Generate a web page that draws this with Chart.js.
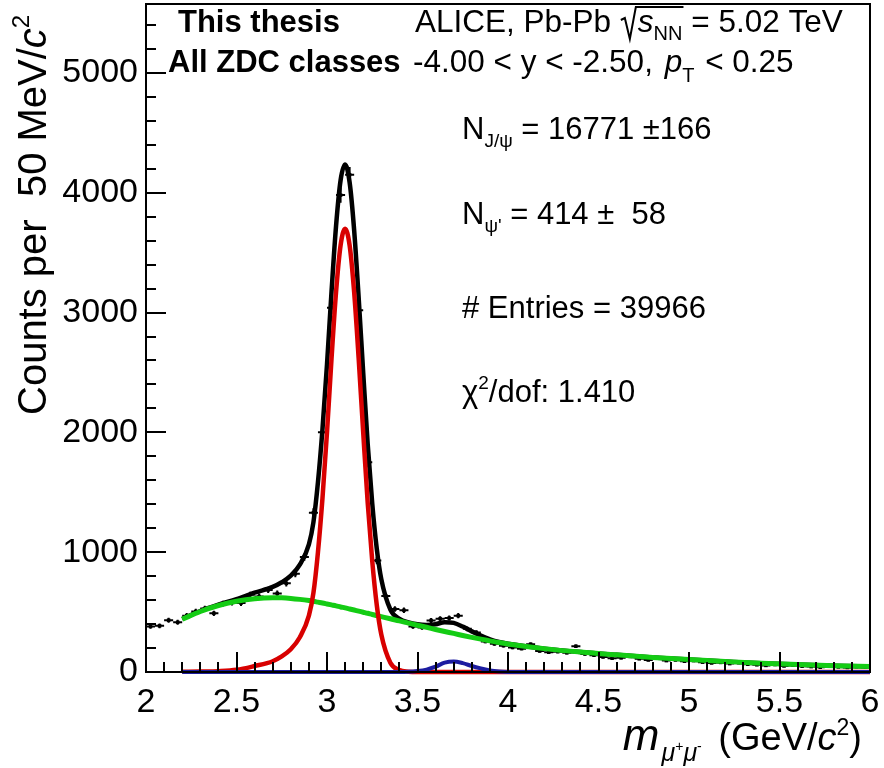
<!DOCTYPE html>
<html>
<head>
<meta charset="utf-8">
<script src="https://cdn.jsdelivr.net/npm/chart.js@4/dist/chart.umd.min.js"></script>
<style>
  html, body { margin: 0; padding: 0; background: #fff; }
  canvas { display: block; }
</style>
</head>
<body>
<canvas id="massPlot" width="884" height="768"></canvas>
<script>
// Dimuon invariant-mass spectrum, 50 MeV/c^2 bins
const binCenters = [
  2.025,2.075,2.125,2.175,2.225,2.275,2.325,2.375,2.425,2.475,
  2.525,2.575,2.625,2.675,2.725,2.775,2.825,2.875,2.925,2.975,
  3.025,3.075,3.125,3.175,3.225,3.275,3.325,3.375,3.425,3.475,
  3.525,3.575,3.625,3.675,3.725,3.775,3.825,3.875,3.925,3.975,
  4.025,4.075,4.125,4.175,4.225,4.275,4.325,4.375,4.425,4.475,
  4.525,4.575,4.625,4.675,4.725,4.775,4.825,4.875,4.925,4.975,
  5.025,5.075,5.125,5.175,5.225,5.275,5.325,5.375,5.425,5.475,
  5.525,5.575,5.625,5.675,5.725,5.775,5.825,5.875,5.925,5.975
];
const binHalfWidth = 0.025;
const counts = [
  380,385,432,415,470,505,530,490,570,580,
  575,645,630,685,655,740,820,960,1330,2000,
  3040,3980,4150,3020,1750,930,634,525,515,380,
  372,430,445,450,470,360,330,255,235,220,
  205,195,232,175,165,170,160,215,150,140,
  125,115,118,130,110,100,120,95,100,90,
  95,82,75,80,70,78,65,60,55,62,
  50,58,48,45,40,50,42,38,45,40
];
const countErr = [
  19.5,19.6,20.8,20.4,21.7,22.5,23.0,22.1,23.9,24.1,
  24.0,25.4,25.1,26.2,25.6,27.2,28.6,31.0,36.5,44.7,
  55.1,63.1,64.4,55.0,41.8,30.5,25.2,22.9,22.7,19.5,
  19.3,20.7,21.1,21.2,21.7,19.0,18.2,16.0,15.3,14.8,
  14.3,14.0,15.2,13.2,12.8,13.0,12.6,14.7,12.2,11.8,
  11.2,10.7,10.9,11.4,10.5,10.0,11.0,9.7,10.0,9.5,
  9.7,9.1,8.7,8.9,8.4,8.8,8.1,7.7,7.4,7.9,
  7.1,7.6,6.9,6.7,6.3,7.1,6.5,6.2,6.7,6.3
];

// Fit curves sampled along the mass axis
const fitMass = [
  2.2,2.3,2.4,2.5,2.6,2.7,2.75,2.8,2.85,2.9,
  2.925,2.95,2.975,3.0,3.025,3.05,3.075,3.1,3.125,3.15,
  3.175,3.2,3.225,3.25,3.275,3.3,3.35,3.4,3.45,3.5,
  3.55,3.6,3.65,3.7,3.75,3.8,3.85,3.9,3.95,4.0,
  4.2,4.4,4.6,4.8,5.0,5.2,5.4,5.6,5.8,6.0
];
const fitTotal = [
  442,509,562,608,662,710,749,804,896,1066,
  1250,1583,2026,2568,3175,3722,4103,4235,4086,3687,
  3123,2499,1900,1405,1029,775,522,443,413,398,
  393,399,416,410,379,339,304,273,250,235,
  195,166,143,122,104,88,73,62,53,45
];
const fitBackground = [
  440,505,555,590,612,620,619,614,606,596,
  590,583,576,568,560,552,543,535,526,517,
  508,499,490,480,471,462,444,427,408,390,
  373,355,338,322,305,289,274,260,246,234,
  195,166,143,122,104,88,73,62,53,45
];
const fitJpsi = [
  2,4,7,18,50,90,130,190,290,470,
  660,1000,1450,2000,2615,3170,3560,3700,3560,3170,
  2615,2000,1410,925,558,313,78,16,3,0,
  0,0,0,0,0,0,0,0,0,0,
  0,0,0,0,0,0,0,0,0,0
];
const fitPsi2S = [
  0,0,0,0,0,0,0,0,0,0,
  0,0,0,0,0,0,0,0,0,0,
  0,0,0,0,0,0,0,0,2,8,
  20,44,78,88,74,50,30,13,4,1,
  0,0,0,0,0,0,0,0,0,0
];

const xTicks = [2, 2.5, 3, 3.5, 4, 4.5, 5, 5.5, 6];
const yTicks = [0, 1000, 2000, 3000, 4000, 5000];
const xRange = [2, 6];
const yRange = [0, 5575];

const FONT = '"Liberation Sans", Arial, Helvetica, sans-serif';
function font(size, s) {
  return (s && s.italic ? 'italic ' : '') + (s && s.bold ? 'bold ' : '') + size + 'px ' + FONT;
}
function rich(ctx, x, y, segs) {
  let cx = x;
  for (const s of segs) {
    ctx.font = font(s.size, s);
    ctx.fillText(s.t, cx, y + (s.dy || 0));
    cx += ctx.measureText(s.t).width + (s.gap || 0);
  }
  return cx;
}
function richWidth(ctx, segs) {
  let w = 0;
  for (const s of segs) { ctx.font = font(s.size, s); w += ctx.measureText(s.t).width + (s.gap || 0); }
  return w;
}

const series = (xs, ys) => xs.map((m, i) => ({ x: m, y: ys[i] }));

// Horizontal bin-width bars and vertical statistical bars under the markers
const errorBars = {
  id: 'errorBars',
  beforeDatasetsDraw(chart) {
    const { ctx, scales: { x, y } } = chart;
    ctx.save();
    ctx.strokeStyle = '#000';
    ctx.lineWidth = 2;
    ctx.beginPath();
    binCenters.forEach((m, i) => {
      const px = x.getPixelForValue(m);
      const py = y.getPixelForValue(counts[i]);
      ctx.moveTo(x.getPixelForValue(m - binHalfWidth), py);
      ctx.lineTo(x.getPixelForValue(m + binHalfWidth), py);
      ctx.moveTo(px, y.getPixelForValue(counts[i] - countErr[i]));
      ctx.lineTo(px, y.getPixelForValue(counts[i] + countErr[i]));
    });
    ctx.stroke();
    ctx.restore();
  }
};

// Frame with inward major/minor ticks
const frame = {
  id: 'frame',
  afterDatasetsDraw(chart) {
    const { ctx, chartArea: a, scales: { x, y } } = chart;
    ctx.save();
    ctx.strokeStyle = '#000';
    ctx.lineWidth = 2;
    ctx.strokeRect(a.left, a.top, a.right - a.left, a.bottom - a.top);
    ctx.beginPath();
    for (let k = 0; k <= 40; k++) {
      const px = Math.round(x.getPixelForValue(xRange[0] + k * 0.1));
      const len = k % 5 === 0 ? 20 : 10;
      ctx.moveTo(px, a.bottom);
      ctx.lineTo(px, a.bottom - len);
    }
    for (let k = 0; k * 200 <= yRange[1]; k++) {
      const py = Math.round(y.getPixelForValue(k * 200));
      const len = k % 5 === 0 ? 20 : 10;
      ctx.moveTo(a.left, py);
      ctx.lineTo(a.left + len, py);
    }
    ctx.stroke();
    ctx.restore();
  }
};

// Titles, header and fit summary
const labels = {
  id: 'labels',
  afterDraw(chart) {
    const ctx = chart.ctx;
    ctx.save();
    ctx.fillStyle = '#000';
    ctx.strokeStyle = '#000';
    ctx.textBaseline = 'alphabetic';
    ctx.textAlign = 'left';

    // header, left block
    rich(ctx, 178, 32, [{ t: 'This thesis', size: 31, bold: true }]);
    rich(ctx, 168, 72, [{ t: 'All ZDC classes', size: 31, bold: true }]);

    // header, right block
    const hs = 31.5;
    let x = rich(ctx, 415, 32, [{ t: 'ALICE, Pb-Pb ', size: hs }]);
    const r0 = x + 1;
    const sx = rich(ctx, r0 + 17, 32, [{ t: 's', size: hs, italic: true }, { t: 'NN', size: 20, dy: 8 }]);
    ctx.lineWidth = 2;
    ctx.beginPath();
    ctx.moveTo(r0, 20);
    ctx.lineTo(r0 + 4, 18);
    ctx.lineTo(r0 + 9, 39);
    ctx.lineTo(r0 + 15, 7);
    ctx.lineTo(sx + 1, 7);
    ctx.stroke();
    rich(ctx, sx, 32, [{ t: ' = 5.02 TeV', size: hs }]);

    rich(ctx, 413, 72, [
      { t: '-4.00 < y < -2.50, ', size: hs, gap: 3 },
      { t: 'p', size: hs, italic: true },
      { t: 'T', size: 20, dy: 10, gap: 2 },
      { t: ' < 0.25', size: hs }
    ]);

    // fit summary
    const ss = 31;
    rich(ctx, 462, 139, [
      { t: 'N', size: ss }, { t: 'J/\u03C8', size: 19, dy: 8 }, { t: ' = 16771 \u00B1166', size: ss }
    ]);
    rich(ctx, 462, 224, [
      { t: 'N', size: ss }, { t: '\u03C8\'', size: 19, dy: 8 }, { t: ' = 414 \u00B1  58', size: ss }
    ]);
    rich(ctx, 462, 318, [{ t: '# Entries = 39966', size: ss }]);
    rich(ctx, 462, 402, [
      { t: '\u03C7', size: ss }, { t: '2', size: 19, dy: -13 }, { t: '/dof: 1.410', size: ss }
    ]);

    // x-axis title, right aligned
    const xt = [
      { t: 'm', size: 44, italic: true, gap: 2 },
      { t: '\u03BC', size: 25, italic: true, dy: 11 },
      { t: '+', size: 14, dy: 1 },
      { t: '\u03BC', size: 25, italic: true, dy: 11 },
      { t: '-', size: 14, dy: 1, gap: 6 },
      { t: ' (GeV/', size: 38 },
      { t: 'c', size: 38, italic: true },
      { t: '2', size: 23, dy: -15 },
      { t: ')', size: 38 }
    ];
    rich(ctx, 862 - richWidth(ctx, xt), 750, xt);

    // y-axis title, rotated
    ctx.translate(46, 415);
    ctx.rotate(-Math.PI / 2);
    rich(ctx, 0, 0, [
      { t: 'Counts per  50 MeV/', size: 40 },
      { t: 'c', size: 40, italic: true },
      { t: '2', size: 24, dy: -17 }
    ]);
    ctx.restore();
  }
};

const lineStyle = (color, width, order) => ({
  showLine: true, pointRadius: 0, borderColor: color, borderWidth: width,
  backgroundColor: color, cubicInterpolationMode: 'monotone', order: order, clip: false
});

// Keep the plotting frame fixed: no extra room for edge labels
const zeroPad = s => { s.paddingTop = 0; s.paddingBottom = 0; s.paddingLeft = 0; s.paddingRight = 0; };

new Chart(document.getElementById('massPlot'), {
  type: 'scatter',
  data: {
    datasets: [
      { label: 'Data', data: series(binCenters, counts), pointStyle: 'rect', pointRadius: 2.5,
        backgroundColor: '#000', borderColor: '#000', borderWidth: 0, order: 5 },
      Object.assign({ label: 'Total fit', data: series(fitMass, fitTotal) }, lineStyle('#000000', 4.5, 4)),
      Object.assign({ label: 'Background', data: series(fitMass, fitBackground) }, lineStyle('#14cc14', 5, 3)),
      Object.assign({ label: 'J/\u03C8', data: series(fitMass, fitJpsi) }, lineStyle('#d80000', 4.5, 2)),
      Object.assign({ label: '\u03C8(2S)', data: series(fitMass, fitPsi2S) }, lineStyle('#1c1ca0', 4, 1))
    ]
  },
  options: {
    responsive: false,
    animation: false,
    devicePixelRatio: 1,
    layout: { padding: { top: 3, right: 14, left: 0, bottom: 0 } },
    plugins: { legend: { display: false }, tooltip: { enabled: false } },
    scales: {
      x: {
        type: 'linear', min: xRange[0], max: xRange[1],
        afterBuildTicks: s => { s.ticks = xTicks.map(v => ({ value: v })); },
        afterFit: s => { s.height = 96; zeroPad(s); },
        grid: { display: false, drawTicks: false },
        border: { display: false },
        ticks: { color: '#000', font: { family: FONT, size: 34 }, padding: 10, maxRotation: 0,
                 autoSkip: false, callback: v => String(v) }
      },
      y: {
        type: 'linear', min: yRange[0], max: yRange[1],
        afterBuildTicks: s => { s.ticks = yTicks.map(v => ({ value: v })); },
        afterFit: s => { s.width = 146; zeroPad(s); },
        grid: { display: false, drawTicks: false },
        border: { display: false },
        ticks: { color: '#000', font: { family: FONT, size: 34 }, padding: 8,
                 autoSkip: false, callback: v => String(v) }
      }
    }
  },
  plugins: [errorBars, frame, labels]
});
</script>
</body>
</html>
